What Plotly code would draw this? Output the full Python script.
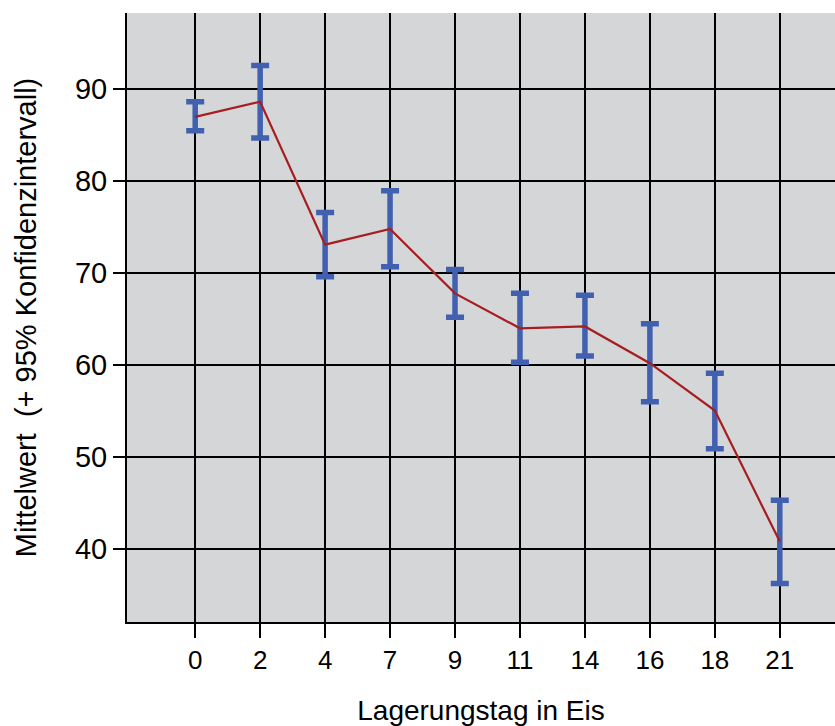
import plotly.graph_objects as go

days = ["0", "2", "4", "7", "9", "11", "14", "16", "18", "21"]
means = [87.0, 88.65, 73.1, 74.8, 67.8, 64.0, 64.2, 60.2, 55.05, 40.8]
upper = [88.65, 92.6, 76.6, 78.95, 70.4, 67.8, 67.6, 64.5, 59.1, 45.3]
lower = [85.5, 84.7, 69.6, 70.7, 65.2, 60.3, 61.0, 56.0, 50.9, 36.25]

err_plus = [u - m for u, m in zip(upper, means)]
err_minus = [m - l for m, l in zip(means, lower)]

fig = go.Figure()
fig.add_trace(go.Scatter(
    x=days, y=means, mode="markers",
    marker=dict(size=1, color="rgba(0,0,0,0)"),
    error_y=dict(type="data", symmetric=False, array=err_plus, arrayminus=err_minus,
                 color="#4160b0", thickness=5.5, width=9),
    showlegend=False, hoverinfo="skip",
))
fig.add_trace(go.Scatter(
    x=days, y=means, mode="lines",
    line=dict(color="#a61e22", width=2.2),
    showlegend=False,
))

fig.update_layout(
    width=835, height=726,
    margin=dict(l=127, r=0, t=13, b=104),
    paper_bgcolor="white",
    plot_bgcolor="#d5d6d8",
    font=dict(family="Liberation Sans, Arial, sans-serif", color="black"),
)
fig.update_xaxes(
    type="category", range=[-1.05, 9.85],
    showgrid=True, gridcolor="black", gridwidth=2,
    showline=True, linecolor="black", linewidth=2,
    ticks="outside", ticklen=14, tickwidth=2, tickcolor="black",
    tickfont=dict(size=26),
    title=dict(text="Lagerungstag in Eis", font=dict(size=28), standoff=26),
    zeroline=False,
)
fig.update_yaxes(
    range=[32.05, 98.3],
    tickvals=[40, 50, 60, 70, 80, 90],
    showgrid=True, gridcolor="black", gridwidth=2,
    showline=True, linecolor="black", linewidth=2,
    ticks="outside", ticklen=12, tickwidth=2, tickcolor="black",
    tickfont=dict(size=29),
    title=dict(text="Mittelwert\u00a0\u00a0(+ 95% Konfidenzintervall)", font=dict(size=29), standoff=30),
    zeroline=False,
)

fig.write_html("out.html")
